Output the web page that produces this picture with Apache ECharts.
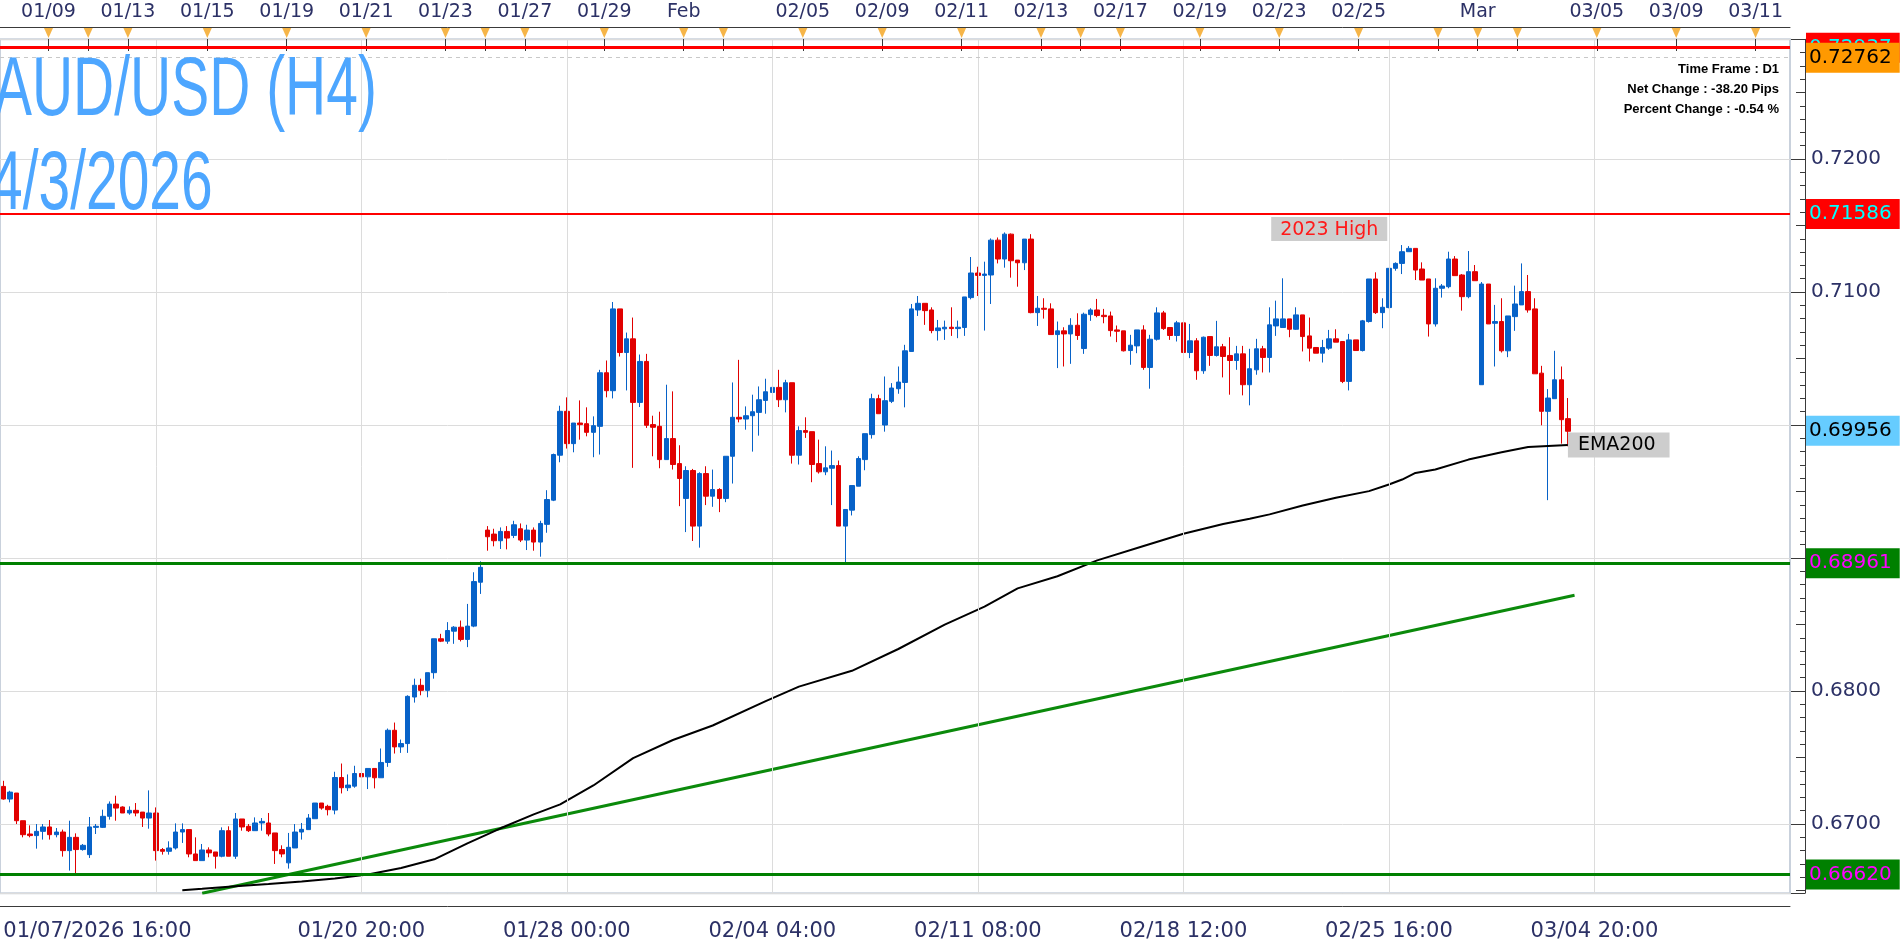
<!DOCTYPE html>
<html>
<head>
<meta charset="utf-8">
<title>AUD/USD (H4)</title>
<script src="https://cdn.jsdelivr.net/npm/echarts@6/dist/echarts.min.js"></script>
<style>
  html, body { margin: 0; padding: 0; background: #fff; }
  #chart { width: 1902px; height: 946px; }
</style>
</head>
<body>
<div id="chart"></div>
<script>
// H4 bars: [open, high, low, close]
const ohlc = [
  [0.67283,0.67325,0.67183,0.67188],[0.67188,0.6725,0.67163,0.6724],[0.67233,0.67233,0.67,0.67025],[0.67025,0.67025,0.669,0.6692],
  [0.66925,0.6699,0.669,0.66913],[0.66913,0.67,0.66815,0.66945],[0.66945,0.67,0.66883,0.66978],[0.66978,0.6703,0.66883,0.6692],
  [0.6692,0.6697,0.669,0.6694],[0.6694,0.66958,0.66755,0.668],[0.668,0.67025,0.6665,0.669],[0.669,0.6693,0.66625,0.66808],
  [0.66808,0.6685,0.668,0.6684],[0.6677,0.67053,0.66745,0.66978],[0.66975,0.67,0.66925,0.66983],[0.66975,0.67108,0.6697,0.67058],
  [0.67058,0.6717,0.67033,0.6715],[0.6715,0.67213,0.67025,0.6712],[0.67128,0.67133,0.67083,0.67083],[0.67083,0.67133,0.6707,0.67103],
  [0.67103,0.67158,0.67058,0.67083],[0.6709,0.6709,0.66978,0.67045],[0.67045,0.67253,0.66965,0.67083],[0.67083,0.67125,0.66725,0.668],
  [0.66808,0.6682,0.6677,0.66795],[0.66795,0.6687,0.6677,0.6682],[0.6682,0.67005,0.66808,0.6694],[0.6694,0.67005,0.66858,0.66958],
  [0.66958,0.66958,0.6675,0.66775],[0.66775,0.669,0.66725,0.66725],[0.66725,0.6685,0.66725,0.66805],[0.66805,0.66825,0.6675,0.66783],
  [0.6679,0.6679,0.66665,0.66758],[0.66758,0.66975,0.6675,0.6695],[0.6695,0.66983,0.66758,0.66758],[0.66758,0.67083,0.66738,0.67038],
  [0.67038,0.67038,0.6695,0.66978],[0.66983,0.67,0.6694,0.6695],[0.6695,0.6705,0.6695,0.67008],[0.67008,0.67045,0.6695,0.6702],
  [0.67008,0.67083,0.66908,0.66925],[0.66933,0.66933,0.667,0.668],[0.66808,0.6684,0.6675,0.66775],[0.66708,0.66933,0.66665,0.66825],
  [0.6682,0.67,0.6682,0.6694],[0.6694,0.67008,0.66883,0.6696],[0.66958,0.67075,0.66958,0.67045],[0.6704,0.67158,0.6704,0.67158],
  [0.67158,0.67158,0.67108,0.6712],[0.67133,0.67145,0.67065,0.67108],[0.67105,0.67393,0.67073,0.6735],[0.6735,0.67455,0.6723,0.67273],
  [0.67273,0.67373,0.67248,0.67293],[0.67285,0.67438,0.67273,0.6738],[0.6738,0.67413,0.67298,0.67355],[0.67355,0.67418,0.67263,0.67418],
  [0.67418,0.67418,0.67268,0.67348],[0.67348,0.67568,0.67348,0.67463],[0.67463,0.67718,0.6743,0.67705],[0.67705,0.67763,0.6753,0.6758],
  [0.6758,0.67635,0.67535,0.67605],[0.67605,0.67968,0.67535,0.6796],[0.67955,0.68093,0.67913,0.68043],[0.68043,0.68093,0.67968,0.68005],
  [0.68005,0.68138,0.67953,0.68138],[0.68138,0.68393,0.68093,0.68393],[0.68393,0.6843,0.68368,0.68375],[0.68375,0.68518,0.68355,0.68455],
  [0.6845,0.68488,0.68355,0.6848],[0.6848,0.6853,0.68373,0.68388],[0.68388,0.68655,0.6833,0.68488],[0.68488,0.68893,0.6848,0.68823],
  [0.68818,0.68975,0.6873,0.6893],[0.6921,0.6924,0.69055,0.6916],[0.6918,0.6922,0.69088,0.6913],[0.6913,0.6923,0.69068,0.692],
  [0.692,0.6924,0.69065,0.6915],[0.6917,0.6928,0.6915,0.6925],[0.6922,0.6926,0.6912,0.69135],[0.69135,0.6925,0.6906,0.6921],
  [0.6921,0.6923,0.69055,0.6912],[0.6912,0.6928,0.6901,0.6926],[0.69253,0.6951,0.6919,0.6944],[0.69435,0.69785,0.69428,0.69778],
  [0.69773,0.70145,0.6972,0.70103],[0.70103,0.70208,0.69823,0.6986],[0.6986,0.70015,0.69795,0.70015],[0.70015,0.70185,0.6989,0.70003],
  [0.7001,0.70133,0.69915,0.69945],[0.69945,0.70065,0.69758,0.69995],[0.6999,0.70415,0.69778,0.70393],[0.70393,0.70485,0.70208,0.70258],
  [0.70258,0.70925,0.702,0.70873],[0.70873,0.70873,0.70515,0.70545],[0.70545,0.70695,0.7026,0.70648],[0.70648,0.70808,0.69678,0.7017],
  [0.7017,0.7053,0.70135,0.70478],[0.70478,0.70535,0.69978,0.69998],[0.70003,0.7007,0.69765,0.69983],[0.6999,0.701,0.69675,0.6974],
  [0.6974,0.70303,0.6974,0.69898],[0.69898,0.70253,0.69665,0.69703],[0.6971,0.69848,0.6939,0.69598],[0.69448,0.6969,0.69195,0.69658],
  [0.69658,0.6967,0.69128,0.6924],[0.6924,0.69645,0.69078,0.69635],[0.69635,0.6969,0.69398,0.69465],[0.69465,0.69665,0.69385,0.69515],
  [0.69515,0.69525,0.69345,0.69448],[0.69448,0.69765,0.6942,0.69765],[0.69765,0.7032,0.6956,0.70058],[0.70058,0.7049,0.7002,0.70045],
  [0.70045,0.7014,0.69965,0.7007],[0.7007,0.70228,0.698,0.701],[0.70095,0.7029,0.6992,0.7019],[0.70185,0.70348,0.70085,0.7025],
  [0.70245,0.70345,0.70145,0.70283],[0.70283,0.70415,0.70135,0.7019],[0.7019,0.7034,0.70095,0.70318],[0.70318,0.70318,0.6971,0.69773],
  [0.69773,0.6999,0.69703,0.69958],[0.69958,0.70058,0.69903,0.69945],[0.6995,0.6995,0.6957,0.69703],[0.6971,0.6989,0.69635,0.69648],
  [0.69648,0.6984,0.69623,0.69678],[0.69675,0.69808,0.69398,0.69695],[0.69695,0.69733,0.6924,0.6924],[0.6924,0.69365,0.68953,0.69365],
  [0.6936,0.69545,0.6932,0.69545],[0.6954,0.69765,0.6954,0.69748],[0.6974,0.69935,0.6966,0.69935],[0.69928,0.70235,0.69898,0.70198],
  [0.70198,0.70228,0.70085,0.70085],[0.7,0.70365,0.6995,0.70183],[0.70178,0.70315,0.70165,0.70278],[0.70273,0.7044,0.70235,0.70323],
  [0.7032,0.70603,0.70133,0.70558],[0.70553,0.7091,0.70553,0.70873],[0.70865,0.7097,0.7082,0.70915],[0.70915,0.70915,0.70753,0.7086],
  [0.70865,0.70885,0.7069,0.7071],[0.7071,0.7079,0.70635,0.7073],[0.70723,0.70785,0.7064,0.70735],[0.70735,0.70885,0.7067,0.70725],
  [0.70725,0.70785,0.70653,0.70735],[0.70733,0.70963,0.7067,0.70963],[0.70958,0.71263,0.70945,0.71143],[0.71143,0.7119,0.7097,0.71125],
  [0.71125,0.71228,0.7071,0.71135],[0.71128,0.71403,0.7091,0.7139],[0.7139,0.7141,0.71215,0.71248],[0.71248,0.71448,0.71183,0.71435],
  [0.71435,0.7144,0.71108,0.71235],[0.7124,0.7124,0.7104,0.7122],[0.7122,0.71398,0.71165,0.71398],[0.71398,0.71435,0.7084,0.70845],
  [0.70845,0.7097,0.70745,0.70878],[0.70878,0.70953,0.708,0.7087],[0.70873,0.70915,0.7068,0.7068],[0.7068,0.70778,0.70428,0.70708],
  [0.70708,0.70735,0.7044,0.70685],[0.70685,0.70803,0.7046,0.7075],[0.7075,0.7084,0.7064,0.70673],[0.70575,0.70845,0.70535,0.70833],
  [0.7083,0.70878,0.70783,0.70865],[0.70865,0.70948,0.7081,0.70823],[0.70825,0.70873,0.70765,0.70815],[0.7082,0.70853,0.70665,0.7071],
  [0.70715,0.70748,0.70623,0.70705],[0.70708,0.70708,0.70553,0.70558],[0.7056,0.70678,0.70453,0.706],[0.70595,0.70715,0.7054,0.70715],
  [0.70715,0.7075,0.70415,0.70433],[0.70433,0.70678,0.70273,0.70645],[0.70645,0.70885,0.70635,0.70843],[0.70843,0.70858,0.70715,0.70725],
  [0.70733,0.70735,0.7064,0.70673],[0.70673,0.70783,0.70628,0.70768],[0.70768,0.70795,0.70545,0.70545],[0.70545,0.7076,0.70503,0.70633],
  [0.70633,0.70653,0.7034,0.70408],[0.70408,0.70665,0.70385,0.7066],[0.70665,0.70665,0.70445,0.70523],[0.70523,0.70783,0.70515,0.70588],
  [0.70588,0.7061,0.70358,0.70515],[0.70523,0.7066,0.70228,0.70485],[0.70485,0.70595,0.70415,0.70535],[0.70535,0.70595,0.70223,0.70303],
  [0.70303,0.70573,0.70148,0.70423],[0.70415,0.70648,0.70378,0.70573],[0.70573,0.70595,0.70395,0.70508],[0.70508,0.70885,0.70395,0.70753],
  [0.70745,0.70935,0.7067,0.70798],[0.70733,0.71103,0.70733,0.70798],[0.70798,0.70798,0.7066,0.7072],[0.7072,0.70885,0.70715,0.70828],
  [0.70828,0.70828,0.70553,0.70665],[0.7067,0.70808,0.70478,0.70578],[0.70583,0.70583,0.7054,0.7054],[0.7054,0.7064,0.7047,0.70583],
  [0.70578,0.70715,0.70565,0.70648],[0.70648,0.7072,0.70623,0.70623],[0.70628,0.70628,0.70315,0.70328],[0.70328,0.70685,0.7026,0.7064],
  [0.7064,0.7064,0.7056,0.7056],[0.7056,0.7079,0.70553,0.70783],[0.70778,0.71098,0.7077,0.71098],[0.71098,0.71148,0.70835,0.70845],
  [0.70845,0.70953,0.70728,0.70885],[0.70883,0.71178,0.70878,0.71178],[0.71178,0.71223,0.7116,0.71215],[0.71215,0.71353,0.71135,0.71303],
  [0.71303,0.71345,0.71303,0.71328],[0.71328,0.71328,0.7109,0.71165],[0.71173,0.71223,0.7109,0.7109],[0.71098,0.71098,0.70665,0.7076],
  [0.7076,0.71103,0.7074,0.71028],[0.71028,0.7106,0.70958,0.71045],[0.7104,0.71303,0.71028,0.71248],[0.71248,0.7127,0.71123,0.71123],
  [0.71128,0.71135,0.7086,0.70965],[0.70965,0.71308,0.70953,0.71153],[0.71153,0.71203,0.71085,0.71085],[0.70303,0.71075,0.70303,0.7106],
  [0.7106,0.7106,0.7076,0.7076],[0.70765,0.70903,0.7044,0.70778],[0.70778,0.70953,0.70545,0.70558],[0.70558,0.7082,0.7051,0.7082],
  [0.70815,0.71048,0.70708,0.7091],[0.70903,0.71215,0.70903,0.71003],[0.71003,0.71128,0.70845,0.70865],[0.70873,0.70953,0.70385,0.70385],
  [0.7039,0.70445,0.69998,0.70103],[0.70103,0.7027,0.69435,0.70203],[0.70198,0.70558,0.70198,0.7034],[0.7034,0.7044,0.6986,0.7004],
  [0.70048,0.70203,0.6984,0.69953]
];

// EMA200 read at some bars: [bar index, value]
const ema200 = [
  [27,0.66503],[30,0.66513],[35,0.66533],[40,0.6655],[45,0.66568],[50,0.6659],[55,0.6662],[60,0.6667],[65,0.66735],
  [70,0.66855],[75,0.66968],[80,0.67073],[84,0.67148],[89,0.6729],[95,0.67495],[101,0.67632],[107,0.67741],[115,0.67924],
  [120,0.68033],[128,0.68152],[135,0.68316],[142,0.68499],[148,0.68635],[153,0.68772],[159,0.68863],[165,0.68982],[172,0.6909],
  [178,0.69183],[184,0.69256],[188,0.69295],[191,0.69328],[196,0.69395],[201,0.69453],[206,0.69503],[209,0.69553],
  [211,0.6959],[213,0.6964],[216,0.69665],[221,0.6974],[226,0.69795],[230,0.69835],[236,0.6985]
];

// rising support trendline, two anchor bars
const trendline = [[30, 0.6648], [237, 0.6872]];

// horizontal levels and price tags on the right
const levelValues = [0.72837, 0.71586, 0.68961, 0.6662];
const levelTexts = ['0.72937', '0.71586', '0.68961', '0.66620'];
const tagValues = [0.72762, 0.69956];
const tagTexts = ['0.72762', '0.69956'];

// bottom time axis (bar index -> text) and its grid bars
const bottomTickIdx = [0, 54, 85, 116, 147, 178, 209, 240];
const bottomTickText = ['01/07/2026 16:00', '01/20 20:00', '01/28 00:00', '02/04 04:00', '02/11 08:00', '02/18 12:00', '02/25 16:00', '03/04 20:00'];
const gridBars = [23, 54, 85, 116, 147, 178, 209, 240];

// top date axis: slot index -> text, and marker slots
const topTickIdx = [1, 3, 5, 7, 9, 11, 13, 15, 17, 20, 22, 24, 26, 28, 30, 32, 34, 37, 40, 42, 44];
const topTickText = ['01/09', '01/13', '01/15', '01/19', '01/21', '01/23', '01/27', '01/29', 'Feb', '02/05', '02/09', '02/11', '02/13', '02/17', '02/19', '02/23', '02/25', 'Mar', '03/05', '03/09', '03/11'];
const topMarkIdx = [1, 2, 3, 5, 7, 9, 11, 12, 13, 15, 17, 18, 20, 22, 24, 26, 27, 28, 30, 32, 34, 36, 37, 38, 40, 42, 44];

const infoLines = ['Time Frame : D1', 'Net Change : -38.20 Pips', 'Percent Change : -0.54 %'];

const BAR_SLOTS = 270;
const TOP_SLOTS = 46;
const FONT = '"DejaVu Sans", Verdana, sans-serif';
const AXIS_TEXT = '#2c3166';
const UP = '#0762c8';
const DOWN = '#e10000';

const chart = echarts.init(document.getElementById('chart'));

const bars = Array.from({ length: BAR_SLOTS }, (_, i) => i);
const topSlots = Array.from({ length: TOP_SLOTS }, (_, i) => i);
const mod = (a, n) => ((a % n) + n) % n;

const levelStyles = [
  { line: { color: '#ff0000', width: 3, type: 'solid' }, bg: '#ff0000', fg: '#00ffff' },
  { line: { color: '#ff0000', width: 2, type: 'solid' }, bg: '#ff0000', fg: '#00ffff' },
  { line: { color: '#008000', width: 3, type: 'solid' }, bg: '#008000', fg: '#ff00ff' },
  { line: { color: '#008000', width: 3, type: 'solid' }, bg: '#008000', fg: '#ff00ff' }
];
const tagStyles = [
  { line: { color: '#c8c8c8', width: 1, type: [4, 4] }, bg: '#ff9900', fg: '#000000' },
  { line: { color: 'rgba(0,0,0,0)', width: 0 }, bg: '#66ccff', fg: '#000000' }
];

function priceTag(value, text, st) {
  return {
    yAxis: value,
    lineStyle: st.line,
    label: {
      show: true, position: 'end', distance: 16, formatter: text,
      color: st.fg, backgroundColor: st.bg, padding: [4, 8, 4, 3],
      fontFamily: FONT, fontSize: 20, lineHeight: 22
    }
  };
}

const option = {
  animation: false,
  backgroundColor: '#ffffff',
  grid: [
    { left: 0, right: 112, top: 39.3, bottom: 52.8, show: true, borderColor: '#c9d1dc', borderWidth: 2, backgroundColor: '#ffffff' },
    { left: 8.8, width: 1786.5, top: 27, height: 12, show: false }
  ],
  xAxis: [
    {
      type: 'category', gridIndex: 0, data: bars, position: 'bottom', offset: 13, boundaryGap: true,
      axisLine: { lineStyle: { color: '#3a3a3a', width: 1 } },
      axisTick: { inside: true, length: 12, alignWithLabel: true, interval: (i) => gridBars.includes(i), lineStyle: { color: '#3a3a3a' } },
      axisLabel: {
        interval: (i) => bottomTickIdx.includes(i),
        formatter: (v, i) => bottomTickText[bottomTickIdx.indexOf(i)] || '',
        alignMinLabel: 'left',
        fontFamily: FONT, fontSize: 21, color: AXIS_TEXT, margin: 15
      },
      splitLine: { show: false }
    },
    {
      type: 'category', gridIndex: 0, data: bars, position: 'bottom', offset: 13, boundaryGap: true,
      axisLine: { show: false },
      axisTick: { inside: true, length: 6, alignWithLabel: true, interval: (i) => mod(i - 23, 31) % 4 === 0, lineStyle: { color: '#3a3a3a' } },
      axisLabel: { show: false }, splitLine: { show: false }
    },
    {
      type: 'category', gridIndex: 0, data: bars, position: 'top', offset: 12, boundaryGap: true,
      axisLine: { lineStyle: { color: '#3a3a3a', width: 1 } },
      axisTick: { inside: true, length: 4, alignWithLabel: true, interval: 0, lineStyle: { color: '#3a3a3a' } },
      axisLabel: { show: false }, splitLine: { show: false }
    },
    {
      type: 'category', gridIndex: 1, data: topSlots, position: 'top', boundaryGap: false,
      axisLine: { show: false },
      axisTick: { inside: true, length: 12, interval: (i) => topMarkIdx.includes(i), lineStyle: { color: '#3a3a3a' } },
      axisLabel: {
        interval: (i) => topTickIdx.includes(i),
        formatter: (v, i) => topTickText[topTickIdx.indexOf(i)] || '',
        fontFamily: FONT, fontSize: 19, color: AXIS_TEXT, margin: 5
      },
      splitLine: { show: false }
    }
  ],
  yAxis: [
    {
      type: 'value', gridIndex: 0, position: 'right', offset: 15, min: 0.6648, max: 0.729, splitNumber: 6,
      axisLine: { show: true, lineStyle: { color: '#3a3a3a', width: 1 } },
      axisTick: { show: true, inside: true, length: 14, lineStyle: { color: '#3a3a3a' } },
      minorTick: { show: true, splitNumber: 10, length: 5, lineStyle: { color: '#3a3a3a' } },
      axisLabel: {
        formatter: (v) => v.toFixed(4), showMinLabel: false, showMaxLabel: false,
        fontFamily: FONT, fontSize: 20, color: AXIS_TEXT, margin: 6
      },
      splitLine: { show: true, lineStyle: { color: '#dcdcdc', width: 1 } }
    },
    {
      type: 'value', gridIndex: 0, position: 'right', offset: 15, min: 0.6648, max: 0.729, splitNumber: 12,
      axisLine: { show: false },
      axisTick: { show: true, inside: true, length: 9, lineStyle: { color: '#3a3a3a' } },
      axisLabel: { show: false }, splitLine: { show: false }
    },
    { type: 'value', gridIndex: 1, min: 0, max: 1, show: false }
  ],
  series: [
    {
      name: 'VGrid', type: 'line', xAxisIndex: 0, yAxisIndex: 0, z: 1,
      data: [],
      markLine: {
        symbol: ['none', 'none'], silent: true, label: { show: false },
        lineStyle: { color: '#dcdcdc', width: 1, type: 'solid' },
        data: gridBars.map((i) => ({ xAxis: i }))
      }
    },
    {
      name: 'AUDUSD', type: 'candlestick', xAxisIndex: 0, yAxisIndex: 0, z: 3,
      barWidth: 5,
      data: ohlc.map(([o, h, l, c]) => [o, c, l, h]),
      itemStyle: { color: UP, color0: DOWN, borderColor: UP, borderColor0: DOWN, borderWidth: 1 }
    },
    {
      name: 'Trend', type: 'line', xAxisIndex: 0, yAxisIndex: 0, z: 4,
      data: trendline, showSymbol: false, symbol: 'none',
      lineStyle: { color: '#0b8a0b', width: 3 }
    },
    {
      name: 'EMA200', type: 'line', xAxisIndex: 0, yAxisIndex: 0, z: 4,
      data: ema200, showSymbol: false, symbol: 'none',
      lineStyle: { color: '#000000', width: 2 },
      markPoint: {
        symbol: 'circle', symbolSize: 0, silent: true,
        data: [{
          coord: ema200[ema200.length - 1],
          label: {
            show: true, position: 'right', distance: 0, formatter: 'EMA200',
            color: '#000000', backgroundColor: '#cdcdcd', padding: [2, 14, 2, 10],
            fontFamily: FONT, fontSize: 19, lineHeight: 21
          }
        }]
      }
    },
    {
      name: 'Levels', type: 'line', xAxisIndex: 0, yAxisIndex: 0, z: 5, clip: false,
      data: [],
      markLine: {
        symbol: ['none', 'none'], silent: true, precision: 5,
        data: levelValues.map((v, i) => priceTag(v, levelTexts[i], levelStyles[i]))
      },
      markPoint: {
        symbol: 'circle', symbolSize: 0, silent: true,
        data: [{
          coord: [200, levelValues[1]],
          label: {
            show: true, position: 'bottom', distance: 3, formatter: '2023 High',
            color: '#ff1a1a', backgroundColor: '#cdcdcd', padding: [2, 9, 1, 9],
            fontFamily: FONT, fontSize: 19, lineHeight: 21
          }
        }]
      }
    },
    {
      name: 'Tags', type: 'line', xAxisIndex: 0, yAxisIndex: 0, z: 6, clip: false,
      data: [],
      markLine: {
        symbol: ['none', 'none'], silent: true, precision: 5,
        data: tagValues.map((v, i) => priceTag(v, tagTexts[i], tagStyles[i]))
      }
    },
    {
      name: 'DateMarks', type: 'scatter', xAxisIndex: 3, yAxisIndex: 2, z: 6,
      data: topMarkIdx.map((k) => [k, 0.5]),
      symbol: 'triangle', symbolRotate: 180, symbolSize: [9, 10],
      itemStyle: { color: '#f4a21a' }, silent: true
    }
  ],
  graphic: [
    {
      type: 'text', x: -6, y: 92, scaleX: 0.678, z: 10, silent: true,
      style: { text: 'AUD/USD (H4)', fill: '#4da6ff', font: '84px "Liberation Sans", Arial, sans-serif', verticalAlign: 'middle' }
    },
    {
      type: 'text', x: -9, y: 186, scaleX: 0.678, z: 10, silent: true,
      style: { text: '4/3/2026', fill: '#4da6ff', font: '84px "Liberation Sans", Arial, sans-serif', verticalAlign: 'middle' }
    },
    ...infoLines.map((t, i) => ({
      type: 'text', x: 1779, y: 69 + i * 20, z: 10, silent: true,
      style: { text: t, fill: '#000000', font: 'bold 13px "Liberation Sans", Arial, sans-serif', align: 'right', verticalAlign: 'middle' }
    }))
  ]
};

chart.setOption(option);
window.addEventListener('resize', () => chart.resize());
</script>
</body>
</html>
